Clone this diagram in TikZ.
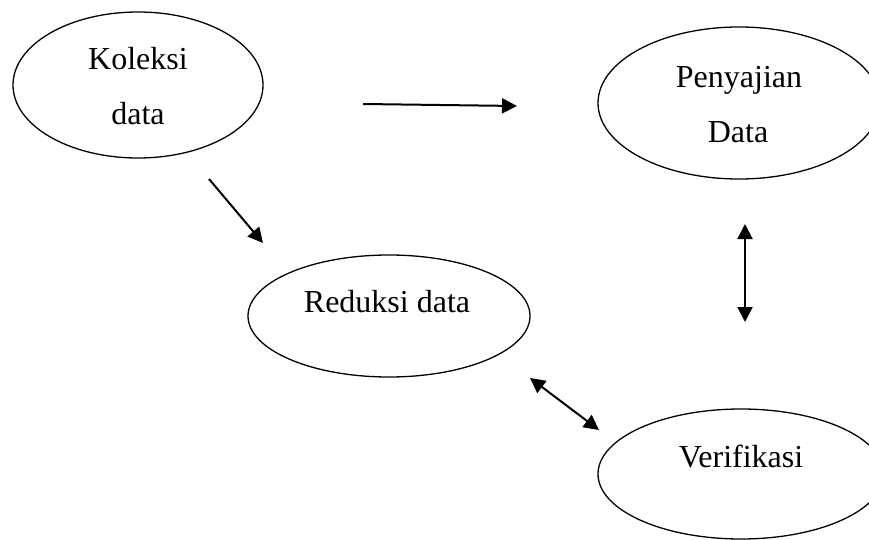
\documentclass[tikz,border=0pt]{standalone}
\usepackage{fontspec}
\setmainfont{Liberation Serif}
\usetikzlibrary{shapes.geometric,arrows.meta}
\begin{document}
\begin{tikzpicture}[x=1pt,y=-1pt,
  oval/.style={draw,ellipse,line width=1.3pt,inner sep=0pt},
  lbl/.style={anchor=base,inner sep=0pt,font=\fontsize{32}{38}\selectfont},
  arr/.style={line width=2pt,-{Triangle[length=15pt,width=15pt]}},
  darr/.style={line width=2pt,{Triangle[length=15pt,width=15pt]}-{Triangle[length=15pt,width=15pt]}}]
\useasboundingbox (0,0) rectangle (869,540);
\clip (0,0) rectangle (869,540);
\node[oval,minimum width=250pt,minimum height=146pt] (kol) at (138,85) {};
\node[oval,minimum width=282pt,minimum height=152pt] (pen) at (739,103) {};
\node[oval,minimum width=282pt,minimum height=122pt] (red) at (389,316) {};
\node[oval,minimum width=286pt,minimum height=130pt] (ver) at (741,474) {};
\node[lbl] (t1) at (138,70) {Koleksi};
\node[lbl] (t2) at (138,125) {data};
\node[lbl] (t3) at (739,88) {Penyajian};
\node[lbl] (t4) at (738,143) {Data};
\node[lbl] (t5) at (387,312) {Reduksi data};
\node[lbl] (t6) at (741,467) {Verifikasi};
\coordinate (a1) at (363,104);
\coordinate (a2) at (517,106);
\coordinate (b1) at (209,179);
\coordinate (b2) at (263,243);
\coordinate (c1) at (745,224);
\coordinate (c2) at (745,322);
\coordinate (d1) at (530,378);
\coordinate (d2) at (599,430);
\draw[arr] (a1) -- (a2);
\draw[arr] (b1) -- (b2);
\draw[darr] (c1) -- (c2);
\draw[darr] (d1) -- (d2);
\end{tikzpicture}
\end{document}
